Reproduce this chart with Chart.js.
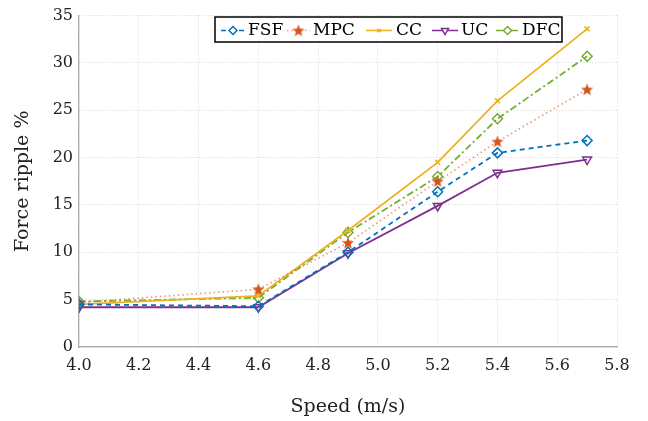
<!DOCTYPE html>
<html>
<head>
<meta charset="utf-8">
<script src="https://cdn.jsdelivr.net/npm/chart.js@4/dist/chart.umd.min.js"></script>
<style>
  html, body { margin: 0; padding: 0; background: #fff; }
  #wrap { width: 648px; height: 421px; }
</style>
</head>
<body>
<div id="wrap"><canvas id="ripple"></canvas></div>
<script>
const speeds = [4.0, 4.6, 4.9, 5.2, 5.4, 5.7];
const seriesNames = ["FSF", "MPC", "CC", "UC", "DFC"];
const fsf = [4.5, 4.3, 10.0, 16.4, 20.5, 21.8];
const mpc = [4.7, 6.1, 11.0, 17.5, 21.7, 27.2];
const cc = [4.5, 5.4, 12.3, 19.5, 26.0, 33.6];
const uc = [4.2, 4.2, 9.9, 14.9, 18.4, 19.8];
const dfc = [4.8, 5.2, 12.1, 18.0, 24.1, 30.7];
const yTicks = [0, 5, 10, 15, 20, 25, 30, 35];

const FONT = "'DejaVu Serif', 'Liberation Serif', serif";

// filled pentagram for MPC
function starMarker(color) {
    const c = document.createElement("canvas");
    c.width = 14; c.height = 14;
    const g = c.getContext("2d");
    g.beginPath();
    for (let i = 0; i < 10; i++) {
        const r = i % 2 === 0 ? 6.5 : 2.7;
        const a = -Math.PI / 2 + i * Math.PI / 5;
        const x = 7 + r * Math.cos(a), y = 7.5 + r * Math.sin(a);
        i === 0 ? g.moveTo(x, y) : g.lineTo(x, y);
    }
    g.closePath();
    g.fillStyle = color;
    g.fill();
    return c;
}

function mkSet(label, data, color, dash, style, extra) {
    return Object.assign({
        label: label,
        data: data.map((v, i) => ({ x: speeds[i], y: v })),
        borderColor: color,
        backgroundColor: "#fff",
        pointBorderColor: color,
        pointBackgroundColor: "rgba(255,255,255,0)",
        borderWidth: 1.8,
        borderDash: dash,
        pointStyle: style,
        pointRadius: 5,
        pointBorderWidth: 1.5,
        tension: 0
    }, extra || {});
}

const datasets = [
    mkSet(seriesNames[0], fsf, "#0072BD", [5, 4], "rectRot"),
    mkSet(seriesNames[1], mpc, "#D95319", [1.5, 3], starMarker("#D95319"), { borderColor: "rgba(217,83,25,0.55)" }),
    mkSet(seriesNames[2], cc, "#EDB120", [], "crossRot", { pointRadius: 3.5 }),
    mkSet(seriesNames[3], uc, "#7E2F8E", [], "triangle", { pointRotation: 180 }),
    mkSet(seriesNames[4], dfc, "#77AC30", [7, 3, 2, 3], "rectRot")
];

// line start, line end, text start for each legend entry
const legendSlots = [[221, 245, 248], [287, 310, 313], [366, 392, 396], [432, 458, 461], [496, 519, 522]];

// boxed legend drawn inside the plot, MATLAB style
const boxLegend = {
    id: "boxLegend",
    afterDraw(chart) {
        const ctx = chart.ctx;
        const x0 = 215, y0 = 17, w = 347, h = 25;
        ctx.save();
        ctx.fillStyle = "#fff";
        ctx.fillRect(x0, y0, w, h);
        ctx.strokeStyle = "#000";
        ctx.lineWidth = 1.5;
        ctx.strokeRect(x0, y0, w, h);
        ctx.font = "17px " + FONT;
        ctx.textBaseline = "middle";
        const cy = y0 + h / 2 + 1;
        chart.data.datasets.forEach((ds, i) => {
            const [sx, ex, tx] = legendSlots[i];
            ctx.strokeStyle = ds.borderColor;
            ctx.lineWidth = 1.5;
            ctx.setLineDash(ds.borderDash);
            ctx.beginPath();
            ctx.moveTo(sx, cy);
            ctx.lineTo(ex, cy);
            ctx.stroke();
            ctx.setLineDash([]);
            ctx.strokeStyle = ds.pointBorderColor;
            ctx.fillStyle = "#fff";
            Chart.helpers.drawPoint(ctx, {
                pointStyle: ds.pointStyle,
                radius: ds.pointRadius - 1,
                rotation: ds.pointRotation || 0,
                borderWidth: 1.5
            }, (sx + ex) / 2, cy);
            ctx.fillStyle = "#000";
            ctx.fillText(ds.label, tx, cy);
        });
        ctx.restore();
    }
};

new Chart(document.getElementById("ripple"), {
    type: "line",
    data: { datasets: datasets },
    plugins: [boxLegend],
    options: {
        responsive: true,
        maintainAspectRatio: false,
        animation: false,
        layout: { padding: { top: 14, right: 31, left: 0, bottom: 0 } },
        plugins: { legend: { display: false }, tooltip: { enabled: false } },
        scales: {
            x: {
                type: "linear",
                min: 4.0,
                max: 5.8,
                afterFit: s => { s.height = 74; },
                ticks: {
                    stepSize: 0.2,
                    color: "#222",
                    font: { family: FONT, size: 16 },
                    padding: 9,
                    callback: v => Number(v).toFixed(1)
                },
                grid: { color: "#d4d4d4", tickLength: 0, lineWidth: 1 },
                border: { color: "#aaa", width: 1.2, dash: [1, 2] },
                title: {
                    display: true,
                    text: "Speed (m/s)",
                    color: "#222",
                    font: { family: FONT, size: 19 },
                    padding: { top: 4, bottom: 3 }
                }
            },
            y: {
                min: 0,
                max: 35,
                afterFit: s => { s.width = 79; },
                afterBuildTicks: s => { s.ticks = yTicks.map(v => ({ value: v })); },
                ticks: {
                    color: "#222",
                    font: { family: FONT, size: 16 },
                    padding: 6
                },
                grid: { color: "#d4d4d4", tickLength: 0, lineWidth: 1 },
                border: { color: "#aaa", width: 1.2, dash: [1, 2] },
                title: {
                    display: true,
                    text: "Force ripple %",
                    color: "#222",
                    font: { family: FONT, size: 19 },
                    padding: { top: 12, bottom: 0 }
                }
            }
        }
    }
});
</script>
</body>
</html>
